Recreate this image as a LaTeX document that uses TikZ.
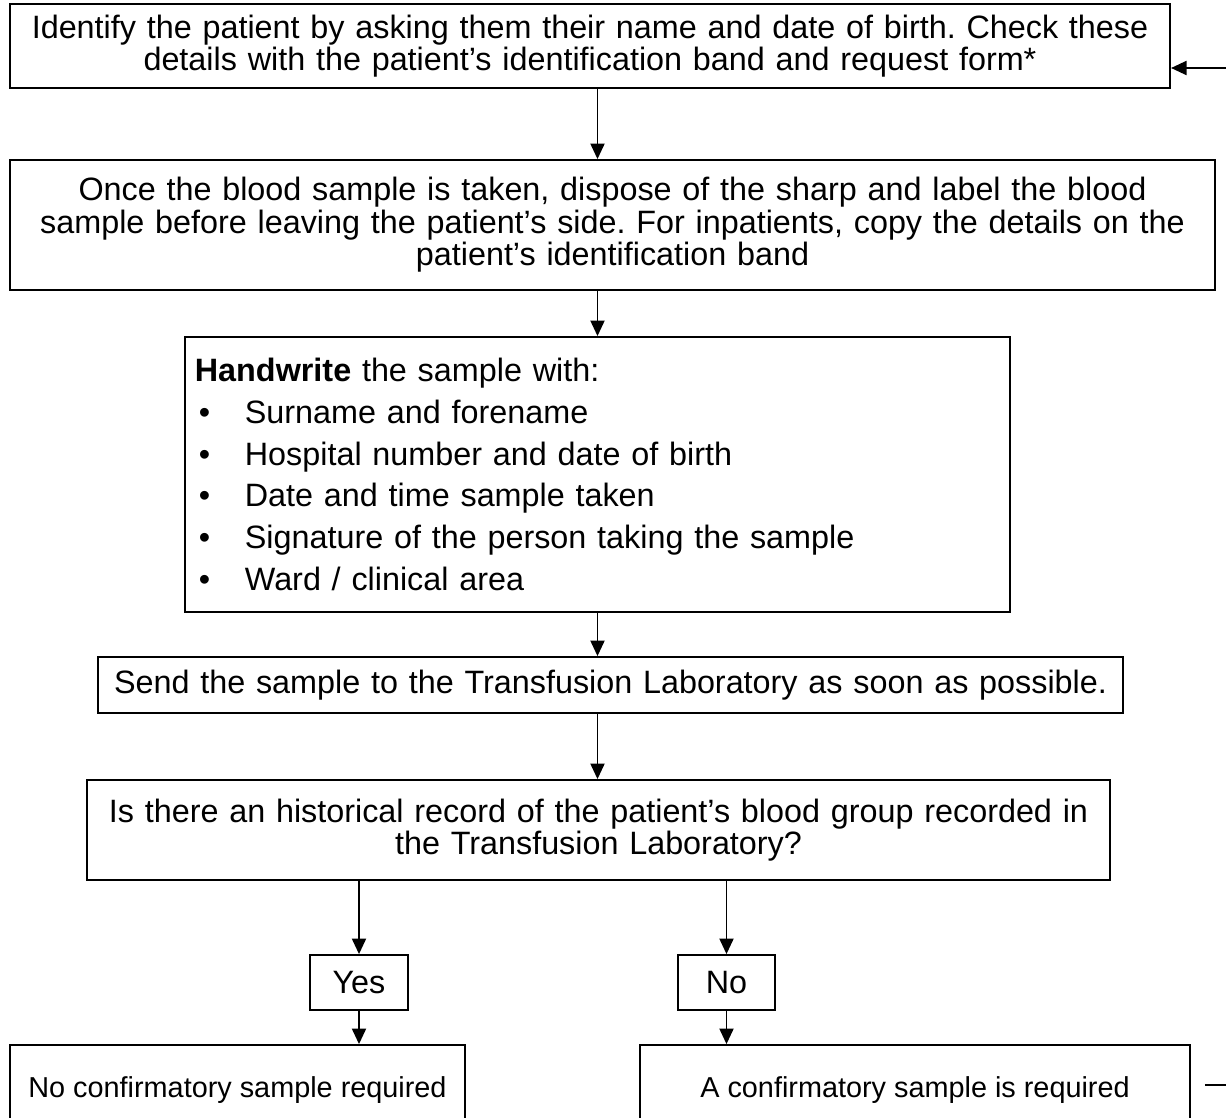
\documentclass[tikz,border=0pt]{standalone}
\usepackage{fontspec}
\setmainfont{Liberation Sans}
\usetikzlibrary{arrows.meta}
\frenchspacing

\tikzset{
    stepbox/.style={draw, line width=1.3pt, inner sep=0pt, align=center,
        font=\fontsize{23}{23.2}\selectfont},
}

\begin{document}
\begin{tikzpicture}[x=0.025cm, y=-0.025cm, >={Triangle[length=11pt,width=10pt]}, line width=1.2pt]
    \useasboundingbox (0,0) rectangle (1226,1118);
    \clip (0,0) rectangle (1226,1118);

    \node[stepbox, text width=29cm, minimum height=2.1cm] (idbox) at (590,46)
        {Identify the patient by asking them their name and date of birth. Check these\\
         details with the patient’s identification band and request form*};

    \node[stepbox, text width=30.125cm, minimum height=3.25cm] (labelbox) at (612.5,225)
        {Once the blood sample is taken, dispose of the sharp and label the blood\\
         sample before leaving the patient’s side. For inpatients, copy the details on the\\
         patient’s identification band};

    % bulleted list, left aligned
    \node[stepbox, align=left, inner xsep=0.25cm, text width=20.125cm, minimum width=20.625cm,
          minimum height=6.875cm] (handbox) at (597.5,474.5)
        {\textbf{Handwrite} the sample with:\\[6.5pt]
         \makebox[1.25cm][l]{\hspace{0.1cm}\textbullet}Surname and forename\\[6.5pt]
         \makebox[1.25cm][l]{\hspace{0.1cm}\textbullet}Hospital number and date of birth\\[6.5pt]
         \makebox[1.25cm][l]{\hspace{0.1cm}\textbullet}Date and time sample taken\\[6.5pt]
         \makebox[1.25cm][l]{\hspace{0.1cm}\textbullet}Signature of the person taking the sample\\[6.5pt]
         \makebox[1.25cm][l]{\hspace{0.1cm}\textbullet}Ward / clinical area};

    \node[stepbox, text width=25.625cm, minimum height=1.4cm] (sendbox) at (610.5,685)
        {Send the sample to the Transfusion Laboratory as soon as possible.};

    \node[stepbox, text width=25.575cm, minimum height=2.5cm] (histbox) at (598.5,830)
        {Is there an historical record of the patient’s blood group recorded in\\
         the Transfusion Laboratory?};

    \node[stepbox, text width=2.45cm, minimum height=1.375cm] (yesbox) at (359,982.5) {Yes};
    \node[stepbox, text width=2.425cm, minimum height=1.375cm] (nobox) at (726.5,982.5) {No};

    \node[stepbox, font=\fontsize{20.5}{23.2}\selectfont, minimum width=11.375cm,
          minimum height=2.25cm] (noconf) at (237.5,1090)
        {No confirmatory sample required};
    \node[stepbox, font=\fontsize{20.5}{23.2}\selectfont, minimum width=13.75cm,
          minimum height=2.25cm] (conf) at (915,1090)
        {A confirmatory sample is required};

    % main column
    \draw[->] (idbox.south -| handbox) -- (labelbox.north -| handbox);
    \draw[->] (labelbox.south -| handbox) -- (handbox.north);
    \draw[->] (handbox.south) -- (sendbox.north -| handbox);
    \draw[->] (sendbox.south -| handbox) -- (histbox.north -| handbox);

    % yes / no branches
    \draw[->] (histbox.south -| yesbox) -- (yesbox.north);
    \draw[->] (histbox.south -| nobox) -- (nobox.north);
    \draw[->] (yesbox.south) -- (noconf.north -| yesbox);
    \draw[->] (nobox.south) -- (conf.north -| nobox);

    % loop back to the top
    \coordinate (loopin) at (1226,68);
    \coordinate (loopout) at (1226,1085);
    \draw[->] (loopin) -- (loopin -| idbox.east);
    \draw ([xshift=0.35cm]conf.east |- loopout) -- (loopout);
\end{tikzpicture}
\end{document}
